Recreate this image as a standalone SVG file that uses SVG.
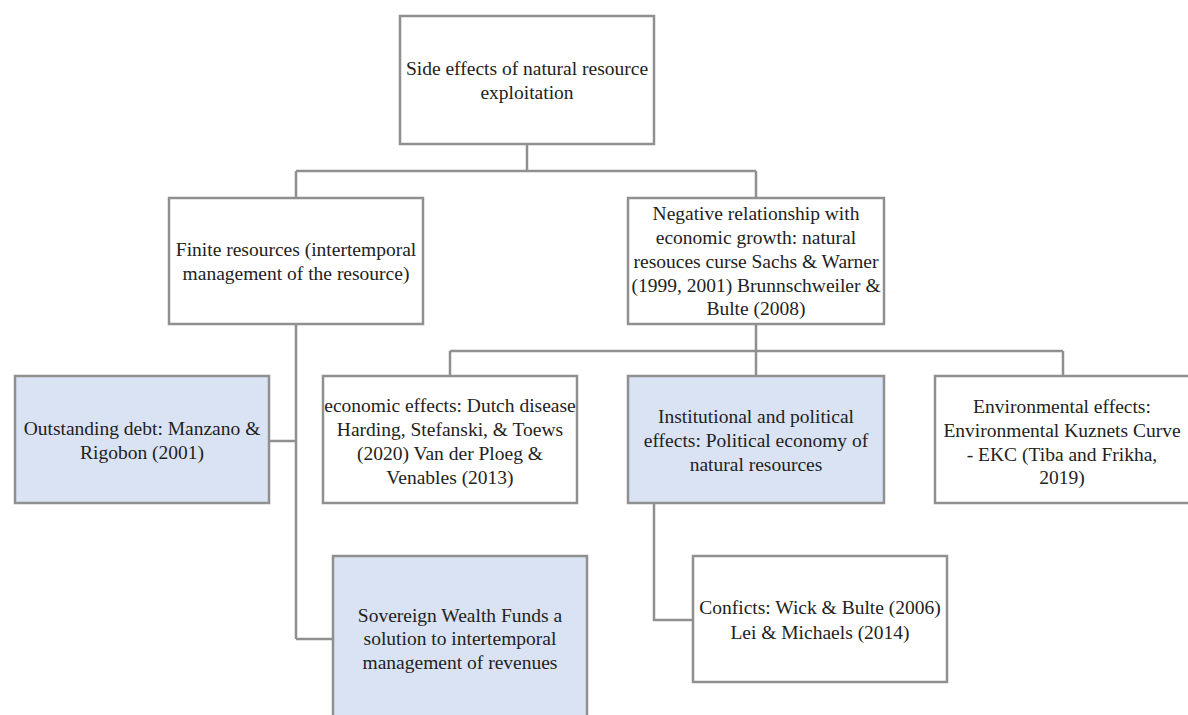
<svg xmlns="http://www.w3.org/2000/svg" width="1188" height="715" viewBox="0 0 1188 715">
<style>
.box{fill:#ffffff;stroke:#909090;stroke-width:2.5}
.blue{fill:#dae3f3}
.con{fill:none;stroke:#909090;stroke-width:2.5}
.t{font-size:19.5px;fill:#222222;text-anchor:middle}
</style>
<rect width="1188" height="715" fill="#ffffff"/>
<g id="connectors">
<path class="con" d="M527,144 V171 M296,171 H756 M296,171 V198 M756,171 V198"/>
<path class="con" d="M296,324 V639 M296,441 H269 M296,639 H333"/>
<path class="con" d="M756,324 V351 M450,351 H1063 M450,351 V376 M756,351 V376 M1063,351 V376"/>
<path class="con" d="M654,503 V620 H693"/>
</g>
<g class="t" font-family="'Liberation Serif', 'Times New Roman', Times, serif">
<g id="root">
<rect class="box" x="400" y="16" width="254" height="128"/>
<text x="527" y="75">Side effects of natural resource</text>
<text x="527" y="99">exploitation</text>
</g>
<g id="finite">
<rect class="box" x="169" y="198" width="254" height="126"/>
<text x="296" y="256">Finite resources (intertemporal</text>
<text x="296" y="280">management of the resource)</text>
</g>
<g id="negative">
<rect class="box" x="628" y="198" width="256" height="126"/>
<text x="756" y="220">Negative relationship with</text>
<text x="756" y="244">economic growth: natural</text>
<text x="756" y="268">resouces curse Sachs &amp; Warner</text>
<text x="756" y="292">(1999, 2001) Brunnschweiler &amp;</text>
<text x="756" y="315">Bulte (2008)</text>
</g>
<g id="debt">
<rect class="box blue" x="15" y="376" width="254" height="127"/>
<text x="142" y="435">Outstanding debt: Manzano &amp;</text>
<text x="142" y="459">Rigobon (2001)</text>
</g>
<g id="economic">
<rect class="box" x="323" y="376" width="254" height="127"/>
<text x="450" y="412">economic effects: Dutch disease</text>
<text x="450" y="436">Harding, Stefanski, &amp; Toews</text>
<text x="450" y="460">(2020) Van der Ploeg &amp;</text>
<text x="450" y="484">Venables (2013)</text>
</g>
<g id="institutional">
<rect class="box blue" x="628" y="376" width="256" height="127"/>
<text x="756" y="423">Institutional and political</text>
<text x="756" y="447">effects: Political economy of</text>
<text x="756" y="471">natural resources</text>
</g>
<g id="environmental">
<rect class="box" x="935" y="376" width="256" height="127"/>
<text x="1062" y="413">Environmental effects:</text>
<text x="1062" y="437">Environmental Kuznets Curve</text>
<text x="1062" y="461">- EKC (Tiba and Frikha,</text>
<text x="1062" y="484">2019)</text>
</g>
<g id="conflicts">
<rect class="box" x="693" y="556" width="254" height="126"/>
<text x="820" y="614">Conficts: Wick &amp; Bulte (2006)</text>
<text x="820" y="639">Lei &amp; Michaels (2014)</text>
</g>
<g id="sovereign">
<rect class="box blue" x="333" y="556" width="254" height="170"/>
<text x="460" y="622">Sovereign Wealth Funds a</text>
<text x="460" y="645">solution to intertemporal</text>
<text x="460" y="669">management of revenues</text>
</g>
</g>
</svg>
